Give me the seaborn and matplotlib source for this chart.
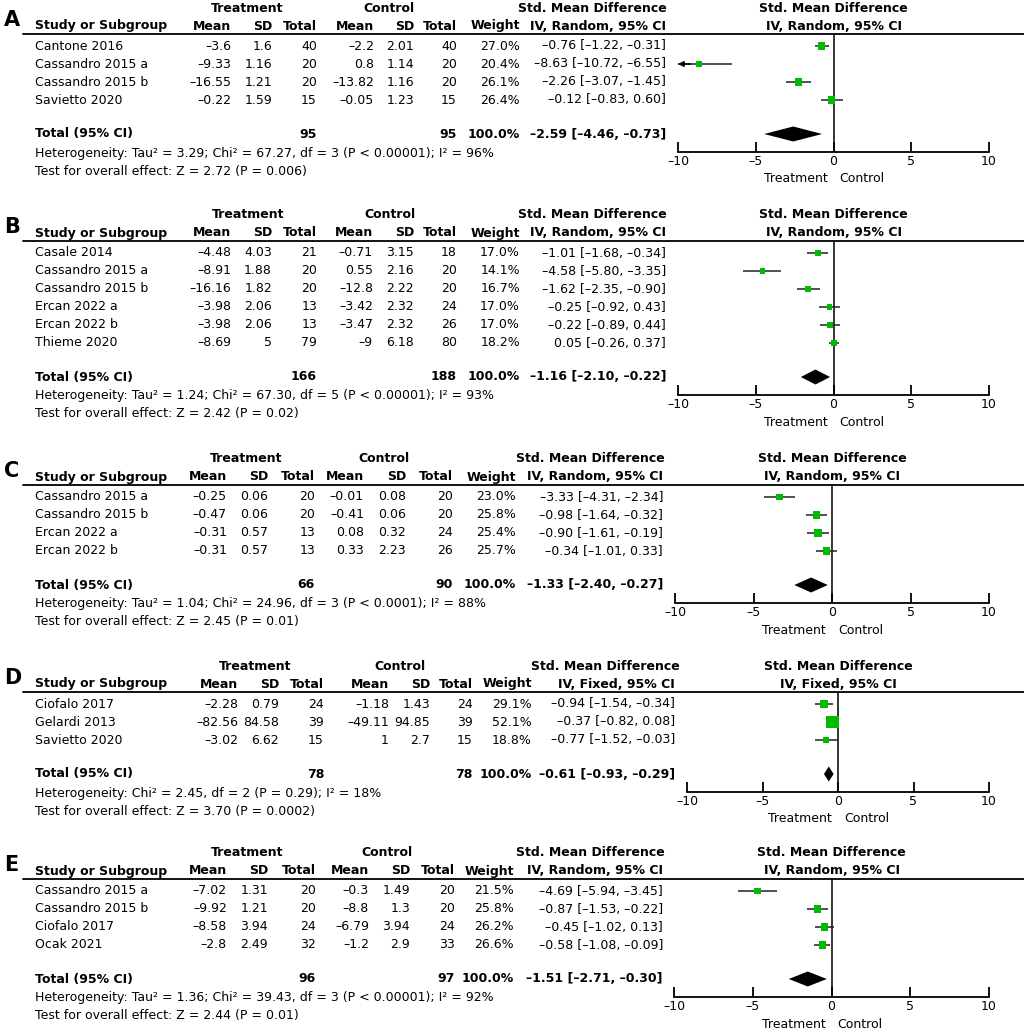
import matplotlib
matplotlib.use("Agg")
import matplotlib.pyplot as plt
import seaborn as sns

sns.set_theme(style="white")
plt.rcParams['font.family'] = ['DejaVu Sans']
plt.rcParams['text.color'] = 'black'
plt.rcParams['xtick.color'] = 'black'
plt.rcParams['xtick.labelcolor'] = 'black'

# ---------------- data ----------------
# A
study_A = ["Cantone 2016", "Cassandro 2015 a", "Cassandro 2015 b", "Savietto 2020"]
tmean_A = [-3.6, -9.33, -16.55, -0.22]
tsd_A = [1.6, 1.16, 1.21, 1.59]
tn_A = [40, 20, 20, 15]
cmean_A = [-2.2, 0.8, -13.82, -0.05]
csd_A = [2.01, 1.14, 1.16, 1.23]
cn_A = [40, 20, 20, 15]
weight_A = [27.0, 20.4, 26.1, 26.4]
smd_A = [-0.76, -8.63, -2.26, -0.12]
lo_A = [-1.22, -10.72, -3.07, -0.83]
hi_A = [-0.31, -6.55, -1.45, 0.60]
totals_A = [95, 95]
pooled_A = [-2.59, -4.46, -0.73]
het_A = "Heterogeneity: Tau\u00b2 = 3.29; Chi\u00b2 = 67.27, df = 3 (P < 0.00001); I\u00b2 = 96%"
test_A = "Test for overall effect: Z = 2.72 (P = 0.006)"

# B
study_B = ["Casale 2014", "Cassandro 2015 a", "Cassandro 2015 b", "Ercan 2022 a", "Ercan 2022 b", "Thieme 2020"]
tmean_B = [-4.48, -8.91, -16.16, -3.98, -3.98, -8.69]
tsd_B = [4.03, 1.88, 1.82, 2.06, 2.06, 5]
tn_B = [21, 20, 20, 13, 13, 79]
cmean_B = [-0.71, 0.55, -12.8, -3.42, -3.47, -9]
csd_B = [3.15, 2.16, 2.22, 2.32, 2.32, 6.18]
cn_B = [18, 20, 20, 24, 26, 80]
weight_B = [17.0, 14.1, 16.7, 17.0, 17.0, 18.2]
smd_B = [-1.01, -4.58, -1.62, -0.25, -0.22, 0.05]
lo_B = [-1.68, -5.80, -2.35, -0.92, -0.89, -0.26]
hi_B = [-0.34, -3.35, -0.90, 0.43, 0.44, 0.37]
totals_B = [166, 188]
pooled_B = [-1.16, -2.10, -0.22]
het_B = "Heterogeneity: Tau\u00b2 = 1.24; Chi\u00b2 = 67.30, df = 5 (P < 0.00001); I\u00b2 = 93%"
test_B = "Test for overall effect: Z = 2.42 (P = 0.02)"

# C
study_C = ["Cassandro 2015 a", "Cassandro 2015 b", "Ercan 2022 a", "Ercan 2022 b"]
tmean_C = [-0.25, -0.47, -0.31, -0.31]
tsd_C = [0.06, 0.06, 0.57, 0.57]
tn_C = [20, 20, 13, 13]
cmean_C = [-0.01, -0.41, 0.08, 0.33]
csd_C = [0.08, 0.06, 0.32, 2.23]
cn_C = [20, 20, 24, 26]
weight_C = [23.0, 25.8, 25.4, 25.7]
smd_C = [-3.33, -0.98, -0.90, -0.34]
lo_C = [-4.31, -1.64, -1.61, -1.01]
hi_C = [-2.34, -0.32, -0.19, 0.33]
totals_C = [66, 90]
pooled_C = [-1.33, -2.40, -0.27]
het_C = "Heterogeneity: Tau\u00b2 = 1.04; Chi\u00b2 = 24.96, df = 3 (P < 0.0001); I\u00b2 = 88%"
test_C = "Test for overall effect: Z = 2.45 (P = 0.01)"

# D
study_D = ["Ciofalo 2017", "Gelardi 2013", "Savietto 2020"]
tmean_D = [-2.28, -82.56, -3.02]
tsd_D = [0.79, 84.58, 6.62]
tn_D = [24, 39, 15]
cmean_D = [-1.18, -49.11, 1]
csd_D = [1.43, 94.85, 2.7]
cn_D = [24, 39, 15]
weight_D = [29.1, 52.1, 18.8]
smd_D = [-0.94, -0.37, -0.77]
lo_D = [-1.54, -0.82, -1.52]
hi_D = [-0.34, 0.08, -0.03]
totals_D = [78, 78]
pooled_D = [-0.61, -0.93, -0.29]
het_D = "Heterogeneity: Chi\u00b2 = 2.45, df = 2 (P = 0.29); I\u00b2 = 18%"
test_D = "Test for overall effect: Z = 3.70 (P = 0.0002)"

# E
study_E = ["Cassandro 2015 a", "Cassandro 2015 b", "Ciofalo 2017", "Ocak 2021"]
tmean_E = [-7.02, -9.92, -8.58, -2.8]
tsd_E = [1.31, 1.21, 3.94, 2.49]
tn_E = [20, 20, 24, 32]
cmean_E = [-0.3, -8.8, -6.79, -1.2]
csd_E = [1.49, 1.3, 3.94, 2.9]
cn_E = [20, 20, 24, 33]
weight_E = [21.5, 25.8, 26.2, 26.6]
smd_E = [-4.69, -0.87, -0.45, -0.58]
lo_E = [-5.94, -1.53, -1.02, -1.08]
hi_E = [-3.45, -0.22, 0.13, -0.09]
totals_E = [96, 97]
pooled_E = [-1.51, -2.71, -0.30]
het_E = "Heterogeneity: Tau\u00b2 = 1.36; Chi\u00b2 = 39.43, df = 3 (P < 0.00001); I\u00b2 = 92%"
test_E = "Test for overall effect: Z = 2.44 (P = 0.01)"

xticks = [-10, -5, 0, 5, 10]

# ---------------- layout (pixels) ----------------
W, H = 1024, 1033
GREEN = "#00bb00"
FS = 9
DASH = "\u2013"   # RevMan prints minus as a short dash

fig = plt.figure(figsize=(W / 100, H / 100), dpi=100)
bg = fig.add_axes([0, 0, 1, 1])
bg.set_xlim(0, W)
bg.set_ylim(H, 0)
bg.axis("off")


def fmt(v):
    return f"{v:g}".replace("-", DASH)


def fmt_ci(e, l, h):
    return f"{e:.2f} [{l:.2f}, {h:.2f}]".replace("-", DASH)


def draw_panel(letter, method, U, cols, fx, hc, data):
    (study, tmean, tsd, tn, cmean, csd, cn, weight, smd, lo, hi,
     totals, pooled, het, test) = data
    n = len(study)
    tm, tsdx, tnx, cm, csdx, cnx, wx, cix = cols
    x0, x1 = fx
    zero = (x0 + x1) / 2
    rows = [U + 12 + 18 * k for k in range(n)]
    ytot = rows[-1] + 34
    yaxis = ytot + 18

    # panel letter
    bg.text(4, U - 14, letter, fontsize=15, fontweight="bold", va="center", ha="left")
    # headers
    bg.text(hc[0], U - 26, "Treatment", fontsize=FS, fontweight="bold", ha="center", va="center")
    bg.text(hc[1], U - 26, "Control", fontsize=FS, fontweight="bold", ha="center", va="center")
    bg.text(hc[2], U - 26, "Std. Mean Difference", fontsize=FS, fontweight="bold", ha="center", va="center")
    bg.text(zero, U - 26, "Std. Mean Difference", fontsize=FS, fontweight="bold", ha="center", va="center")
    sub = f"IV, {method}, 95% CI"
    yh = U - 8
    bg.text(35, yh, "Study or Subgroup", fontsize=FS, fontweight="bold", va="center")
    for x, s in zip([tm, tsdx, tnx, cm, csdx, cnx, wx, cix],
                    ["Mean", "SD", "Total", "Mean", "SD", "Total", "Weight", sub]):
        bg.text(x, yh, s, fontsize=FS, fontweight="bold", ha="right", va="center")
    bg.text(zero, yh, sub, fontsize=FS, fontweight="bold", ha="center", va="center")
    bg.plot([23, W], [U, U], color="black", lw=1.3)

    # study rows
    for k in range(n):
        y = rows[k]
        bg.text(35, y, study[k], fontsize=FS, va="center")
        vals = [fmt(tmean[k]), fmt(tsd[k]), str(tn[k]), fmt(cmean[k]), fmt(csd[k]),
                str(cn[k]), f"{weight[k]:.1f}%", fmt_ci(smd[k], lo[k], hi[k])]
        for x, s in zip([tm, tsdx, tnx, cm, csdx, cnx, wx, cix], vals):
            bg.text(x, y, s, fontsize=FS, ha="right", va="center")

    # total row
    bg.text(35, ytot, "Total (95% CI)", fontsize=FS, fontweight="bold", va="center")
    for x, s in zip([tnx, cnx, wx, cix],
                    [str(totals[0]), str(totals[1]), "100.0%", fmt_ci(*pooled)]):
        bg.text(x, ytot, s, fontsize=FS, fontweight="bold", ha="right", va="center")
    bg.text(35, ytot + 19, het, fontsize=FS, va="center")
    bg.text(35, ytot + 37, test, fontsize=FS, va="center")

    # forest axes
    ax = fig.add_axes([x0 / W, 1 - yaxis / H, (x1 - x0) / W, (yaxis - U) / H])
    ax.set_xlim(-10, 10)
    ax.set_ylim(yaxis, U)
    ax.patch.set_alpha(0)
    for s in ["top", "left", "right"]:
        ax.spines[s].set_visible(False)
    ax.spines["bottom"].set_linewidth(1.3)
    ax.spines["bottom"].set_color("black")
    ax.axvline(0, color="black", lw=1.1, zorder=1)

    lo_clip = [max(l, -10) for l in lo]
    ax.hlines(rows, lo_clip, hi, color="#222222", lw=1.1, zorder=2)
    for k in range(n):
        if lo[k] < -10:
            ax.annotate("", xy=(-10, rows[k]), xytext=(-9.2, rows[k]),
                        arrowprops=dict(arrowstyle="-|>", color="black", lw=1.1,
                                        mutation_scale=8, shrinkA=0, shrinkB=0))
    sizes = [((2.5 + 0.19 * w) * 0.72) ** 2 for w in weight]
    sns.scatterplot(x=smd, y=rows, s=sizes, marker="s", color=GREEN,
                    edgecolor="none", linewidth=0, ax=ax, legend=False, zorder=3)
    e, l, h = pooled
    d = 7.5
    ax.fill([l, e, h, e], [ytot, ytot - d, ytot, ytot + d], color="black", zorder=3, lw=0)

    ax.set_yticks([])
    ax.set_xticks(xticks)
    ax.set_xticklabels([fmt(t) for t in xticks])
    ax.tick_params(axis="x", direction="in", length=7, width=1.3, color="black",
                   labelsize=FS, pad=2, bottom=True)
    ax.set_xlabel("")
    ax.set_ylabel("")
    bg.text(zero - 6, yaxis + 27, "Treatment", fontsize=FS, ha="right", va="center")
    bg.text(zero + 6, yaxis + 27, "Control", fontsize=FS, ha="left", va="center")


draw_panel("A", "Random", 34, [231, 272, 317, 374, 414, 457, 520, 666], (678, 989), (247, 389, 592),
           (study_A, tmean_A, tsd_A, tn_A, cmean_A, csd_A, cn_A, weight_A, smd_A, lo_A, hi_A,
            totals_A, pooled_A, het_A, test_A))
draw_panel("B", "Random", 241, [231, 272, 317, 373, 414, 457, 520, 666], (678, 989), (248, 390, 592),
           (study_B, tmean_B, tsd_B, tn_B, cmean_B, csd_B, cn_B, weight_B, smd_B, lo_B, hi_B,
            totals_B, pooled_B, het_B, test_B))
draw_panel("C", "Random", 485, [227, 268, 315, 364, 406, 453, 516, 663], (675, 989), (246, 384, 590),
           (study_C, tmean_C, tsd_C, tn_C, cmean_C, csd_C, cn_C, weight_C, smd_C, lo_C, hi_C,
            totals_C, pooled_C, het_C, test_C))
draw_panel("D", "Fixed", 692, [238, 279, 324, 389, 430, 473, 532, 675], (687, 989), (255, 400, 605),
           (study_D, tmean_D, tsd_D, tn_D, cmean_D, csd_D, cn_D, weight_D, smd_D, lo_D, hi_D,
            totals_D, pooled_D, het_D, test_D))
draw_panel("E", "Random", 879, [227, 268, 316, 369, 410, 455, 514, 663], (674, 989), (247, 387, 590),
           (study_E, tmean_E, tsd_E, tn_E, cmean_E, csd_E, cn_E, weight_E, smd_E, lo_E, hi_E,
            totals_E, pooled_E, het_E, test_E))

fig.savefig("out.png", dpi=100)
